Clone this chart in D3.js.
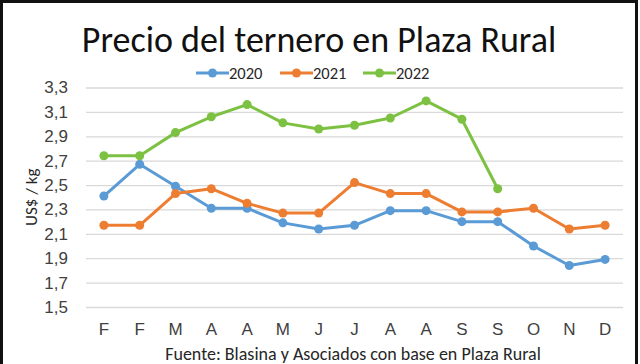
<!DOCTYPE html>
<html>
<head>
<meta charset="utf-8">
<script src="https://cdn.jsdelivr.net/npm/d3@7"></script>
<style>
  body { margin: 0; background: #fff; }
  svg { display: block; font-family: Carlito, "Open Sans", "Noto Sans", sans-serif; }
</style>
</head>
<body>
<svg id="chart"></svg>
<script>
const months = ['F', 'F', 'M', 'A', 'A', 'M', 'J', 'J', 'A', 'A', 'S', 'S', 'O', 'N', 'D'];
const yTicks = [1.5, 1.7, 1.9, 2.1, 2.3, 2.5, 2.7, 2.9, 3.1, 3.3];
const s2020 = [2.41, 2.67, 2.49, 2.31, 2.31, 2.19, 2.14, 2.17, 2.29, 2.29, 2.20, 2.20, 2.00, 1.84, 1.89];
const s2021 = [2.17, 2.17, 2.43, 2.47, 2.35, 2.27, 2.27, 2.52, 2.43, 2.43, 2.28, 2.28, 2.31, 2.14, 2.17];
const s2022 = [2.74, 2.74, 2.93, 3.06, 3.16, 3.01, 2.96, 2.99, 3.05, 3.19, 3.04, 2.47];
const seriesNames = ['2020', '2021', '2022'];

const W = 640, H = 364;
const margin = { top: 87.5, right: 17, bottom: 57, left: 86 };

const svg = d3.select('#chart').attr('width', W).attr('height', H);

// marco negro
svg.append('rect').attr('x', 1.5).attr('y', 1.5).attr('width', 635).attr('height', H + 5)
  .attr('fill', '#fff').attr('stroke', '#111').attr('stroke-width', 3);

const series = [
  { name: seriesNames[0], values: s2020, color: '#5B9BD5' },
  { name: seriesNames[1], values: s2021, color: '#ED7D31' },
  { name: seriesNames[2], values: s2022, color: '#7DC142' }
];

const x = d3.scaleBand()
  .domain(d3.range(months.length))
  .range([margin.left, W - margin.right]);

const y = d3.scaleLinear()
  .domain([1.5, 3.3])
  .range([H - margin.bottom, margin.top]);

const fmt = d => d3.format('.1f')(d).replace('.', ',');

// grid
svg.append('g')
  .attr('transform', `translate(${margin.left},0)`)
  .call(d3.axisLeft(y).tickValues(yTicks).tickSize(-(W - margin.left - margin.right)).tickFormat(fmt).tickPadding(18))
  .call(g => g.select('.domain').remove())
  .call(g => g.selectAll('.tick line').attr('stroke', '#d9d9d9').attr('stroke-width', 1.3))
  .call(g => g.selectAll('.tick text').attr('fill', '#404040').style('font-size', '17px'));

// eje x
svg.append('g')
  .attr('transform', `translate(0,${H - margin.bottom})`)
  .call(d3.axisBottom(x).tickFormat(i => months[i]).tickSize(0).tickPadding(16))
  .call(g => g.select('.domain').remove())
  .call(g => g.selectAll('.tick text').attr('fill', '#404040').style('font-size', '17px'));

// título del eje y
svg.append('text')
  .attr('transform', `translate(37,${(y(1.5) + y(3.3)) / 2}) rotate(-90)`)
  .attr('text-anchor', 'middle')
  .attr('fill', '#262626')
  .style('font-size', '17px')
  .text('US$ / kg');

// líneas
const line = d3.line()
  .x((d, i) => x(i) + x.bandwidth() / 2)
  .y(d => y(d));

series.forEach(s => {
  svg.append('path')
    .datum(s.values)
    .attr('fill', 'none')
    .attr('stroke', s.color)
    .attr('stroke-width', 3)
    .attr('stroke-linejoin', 'round')
    .attr('d', line);

  svg.append('g')
    .selectAll('circle')
    .data(s.values)
    .join('circle')
    .attr('cx', (d, i) => x(i) + x.bandwidth() / 2)
    .attr('cy', d => y(d))
    .attr('r', 4.5)
    .attr('fill', s.color);
});

// título
svg.append('text')
  .attr('x', 319)
  .attr('y', 52)
  .attr('text-anchor', 'middle')
  .attr('fill', '#111')
  .style('font-size', '36px')
  .text('Precio del ternero en Plaza Rural');

// leyenda
const legendX = [196, 280, 363];
const legend = svg.append('g');
series.forEach((s, i) => {
  const g = legend.append('g').attr('transform', `translate(${legendX[i]},73)`);
  g.append('line').attr('x1', 0).attr('x2', 33).attr('stroke', s.color).attr('stroke-width', 3);
  g.append('circle').attr('cx', 16.5).attr('r', 4.5).attr('fill', s.color);
  g.append('text').attr('x', 33).attr('dy', '0.35em').attr('fill', '#262626')
    .style('font-size', '16.5px').text(s.name);
});

// fuente
svg.append('text')
  .attr('x', 353)
  .attr('y', 360)
  .attr('text-anchor', 'middle')
  .attr('fill', '#262626')
  .style('font-size', '18px')
  .text('Fuente: Blasina y Asociados con base en Plaza Rural');
</script>
</body>
</html>
